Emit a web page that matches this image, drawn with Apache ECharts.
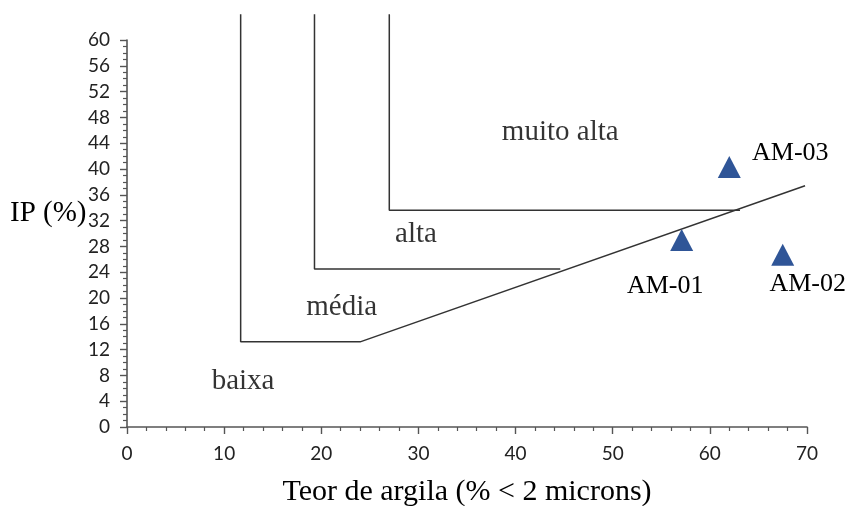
<!DOCTYPE html>
<html>
<head>
<meta charset="utf-8">
<script src="https://cdn.jsdelivr.net/npm/echarts@6/dist/echarts.min.js"></script>
<style>html,body{margin:0;padding:0;background:#fff}#c{width:847px;height:506px}</style>
</head>
<body>
<div id="c"></div>
<script>
// Boundary lines of the plasticity / clay-content classes
const lineBaixa = [[11.7, 64], [11.7, 13.2], [24.0, 13.2], [69.8, 37.4]];
const lineMedia = [[19.3, 64], [19.3, 24.5], [44.6, 24.5]];
const lineAlta  = [[27.0, 64], [27.0, 33.6], [63.1, 33.6]];

// Class labels
const classNames = ['muito alta', 'alta', 'média', 'baixa'];
const classX = [44.6, 29.75, 22.1, 11.95];
const classY = [45.7, 29.9, 18.6, 7.0];

// Samples
const sampleNames = ['AM-01', 'AM-02', 'AM-03'];
const sampleX = [57.1, 67.5, 62.0];
const sampleY = [29.0, 26.7, 40.3];

const xTicks = [0, 10, 20, 30, 40, 50, 60, 70];
const yTicks = [0, 4, 8, 12, 16, 20, 24, 28, 32, 36, 40, 44, 48, 52, 56, 60];

const serif = '"Liberation Serif", "Times New Roman", serif';
const sans = 'Lato, "DejaVu Sans", sans-serif';
const labelOffsets = [[-16.5, 46], [25, 29], [61, -14]];

const chart = echarts.init(document.getElementById('c'), null, {renderer: 'canvas'});
const boundaryStyle = {color: '#333', width: 1.5};
const mkLine = d => ({type: 'line', data: d, symbol: 'none', clip: false, silent: true,
  lineStyle: boundaryStyle, animation: false, z: 2});

chart.setOption({
  animation: false,
  grid: {left: 127, right: 40, top: 40, bottom: 79, containLabel: false, outerBoundsMode: 'none'},
  xAxis: {
    type: 'value', min: xTicks[0], max: xTicks[xTicks.length - 1], interval: 10,
    axisLine: {lineStyle: {color: '#555', width: 1.6}},
    axisTick: {show: true, length: 7, lineStyle: {color: '#555', width: 1.4}},
    minorTick: {show: true, splitNumber: 5, length: 4, lineStyle: {color: '#555', width: 1.2}},
    splitLine: {show: false},
    axisLabel: {fontFamily: sans, fontSize: 19, color: '#222', margin: 17},
    name: 'Teor de argila (% < 2 microns)', nameLocation: 'middle', nameGap: 50,
    nameTextStyle: {fontFamily: serif, fontSize: 30, color: '#000'}
  },
  yAxis: {
    type: 'value', min: yTicks[0], max: yTicks[yTicks.length - 1], interval: 4,
    axisLine: {lineStyle: {color: '#555', width: 1.6}},
    axisTick: {show: true, length: 7, lineStyle: {color: '#555', width: 1.4}},
    minorTick: {show: true, splitNumber: 4, length: 4, lineStyle: {color: '#555', width: 1.2}},
    splitLine: {show: false},
    axisLabel: {fontFamily: sans, fontSize: 19, color: '#222', margin: 17}
  },
  graphic: [{
    type: 'text', left: 10, top: 199,
    style: {text: 'IP (%)', font: '29px ' + serif, fill: '#000'}
  }],
  series: [
    mkLine(lineBaixa), mkLine(lineMedia), mkLine(lineAlta),
    {
      type: 'scatter', symbolSize: 0, silent: true, z: 3,
      data: classNames.map((n, i) => ({name: n, value: [classX[i], classY[i]]})),
      label: {show: true, position: 'inside', formatter: '{b}', fontFamily: serif,
        fontSize: 29, color: '#000'}
    },
    {
      type: 'scatter', symbol: 'triangle', symbolSize: [23, 22], z: 4,
      itemStyle: {color: '#2F5597', opacity: 1},
      data: sampleNames.map((n, i) => ({name: n, value: [sampleX[i], sampleY[i]],
        label: {offset: labelOffsets[i]}})),
      label: {show: true, position: 'inside', formatter: '{b}', fontFamily: serif,
        fontSize: 26, color: '#000'}
    }
  ]
});
</script>
</body>
</html>
